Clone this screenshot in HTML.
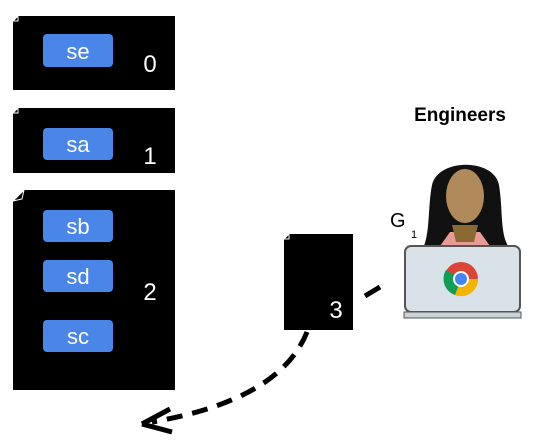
<!DOCTYPE html>
<html><head><style>
body{margin:0;background:#fff;width:543px;height:442px;overflow:hidden;font-family:"Liberation Sans",sans-serif}
</style></head><body>
<svg width="543" height="442" xmlns="http://www.w3.org/2000/svg" font-family="Liberation Sans, sans-serif">
<g fill="#000">
<path d="M18,16 H175 V90 H13 V21 Z"/>
<path d="M18,108 H175 V173 H13 V113 Z"/>
<path d="M24,190 H175 V390 H13 V201 Z"/>
<path d="M289,234 H353 V330 H284 V239 Z"/>
</g>
<g fill="none" stroke="#fff" stroke-width="1">
<path d="M13,21 L18,16 L18,21 Z"/><path d="M13,113 L18,108 L18,113 Z"/><path d="M13,201 L24,190 L22,199 Z"/><path d="M284,239 L289,234 L289,239 Z"/>
</g>
<g fill="#4a86e8">
<rect x="43" y="34" width="70" height="33" rx="4"/>
<rect x="43" y="128" width="70" height="32" rx="4"/>
<rect x="43" y="210" width="70" height="32" rx="4"/>
<rect x="43" y="260" width="70" height="32" rx="4"/>
<rect x="43" y="320" width="70" height="32" rx="4"/>
</g>
<g fill="#fff" font-size="22" text-anchor="middle">
<text x="78" y="59">se</text><text x="78" y="152">sa</text><text x="78" y="234">sb</text><text x="78" y="284">sd</text><text x="78" y="344">sc</text>
<text x="150" y="72" font-size="24">0</text><text x="150" y="164" font-size="24">1</text><text x="150" y="300" font-size="24">2</text><text x="336" y="318" font-size="24">3</text>
</g>
<text x="460" y="121" font-size="19" font-weight="bold" text-anchor="middle">Engineers</text>
<text x="390" y="227" font-size="20">G</text><text x="411" y="238" font-size="11">1</text>
<!-- person -->
<path d="M424,246 C430,230 428,205 432,185 C438,158 494,158 499,185 C503,210 500,232 508,246 Z" fill="#111"/>
<path d="M440,246 L450,232 L480,232 L490,246 Z" fill="#e89a94"/>
<path d="M452,225 L456,242 L474,242 L478,225 Z" fill="#8a6a30"/>
<ellipse cx="465" cy="196" rx="19" ry="27" fill="#b08a5a"/>
<!-- laptop -->
<rect x="405" y="246" width="115" height="66" rx="6" fill="#d8e2e8" stroke="#555" stroke-width="2"/>
<rect x="404" y="312" width="117" height="6" fill="#c8d2d8" stroke="#555" stroke-width="1"/>
<circle cx="461" cy="279" r="17" fill="#db4437"/>
<path d="M461,279 L446,270 A17,17 0 0 0 455,295 Z" fill="#0f9d58"/>
<path d="M461,279 L455,295 A17,17 0 0 0 478,279 Z" fill="#f4b400"/>
<circle cx="461" cy="279" r="8" fill="#fff"/><circle cx="461" cy="279" r="6" fill="#4285f4"/>
<!-- dashes -->
<line x1="380" y1="287" x2="365" y2="296" stroke="#000" stroke-width="5"/>
<path d="M307,332 Q280,400 152,422" fill="none" stroke="#000" stroke-width="5" stroke-dasharray="16,10"/>
<path d="M142,424 L170,409 M142,424 L172,432" stroke="#000" stroke-width="5" fill="none"/>
</svg>
</body></html>
